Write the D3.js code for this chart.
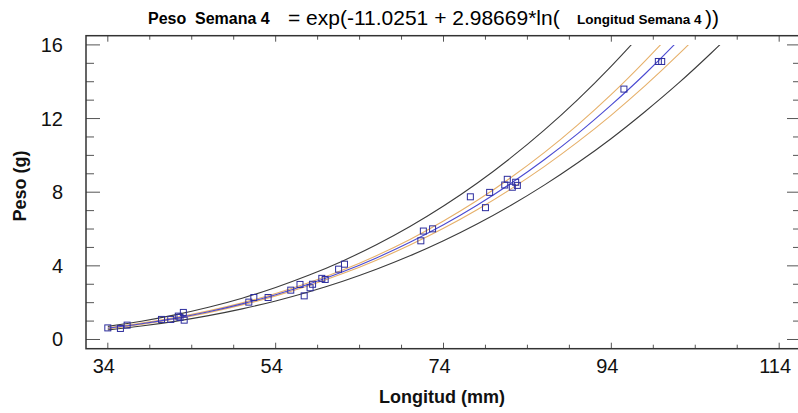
<!DOCTYPE html>
<html>
<head>
	<meta charset="utf-8">
	<script src="https://cdnjs.cloudflare.com/ajax/libs/d3/7.8.5/d3.min.js" charset="utf-8"></script>
	<style>
		body {
		  margin: 0;
		  background: #fff;
		  font-family: 'Liberation Sans', Arial, sans-serif;
		}
		.tickLabel { font-size: 20px; fill: #111; }
		.axisTitle { font-size: 18px; font-weight: bold; fill: #111; }
	</style>
</head>
<body>
<div id="chart"></div>
<script>

///////////////////////////////////////////////////
/////////////////// The data //////////////////////
///////////////////////////////////////////////////

//Observed fish (length in mm, weight in g)
var longitud = [34.0, 35.5, 36.3, 40.4, 41.5, 42.4, 43.0, 43.1, 42.6, 50.8, 51.4, 53.1,
	55.8, 56.9, 57.4, 58.1, 58.4, 59.5, 59.9, 61.5, 62.2, 71.3, 71.6, 72.7,
	77.2, 79.0, 79.5, 81.3, 81.6, 82.2, 82.6, 82.8, 95.5, 99.6, 100.0];
var peso = [0.63, 0.60, 0.78, 1.09, 1.09, 1.27, 1.47, 1.05, 1.20, 2.03, 2.28, 2.28,
	2.68, 2.99, 2.37, 2.81, 3.00, 3.32, 3.26, 3.82, 4.09, 5.36, 5.89, 6.01,
	7.75, 7.16, 7.99, 8.39, 8.70, 8.27, 8.54, 8.37, 13.6, 15.1, 15.1];

//Fitted model and limits, read along the x axis
var curveX = [34, 38, 42, 46, 50, 54, 58, 62, 66, 70, 74, 78, 82, 86, 90, 94, 98, 102, 106, 110];
var ajuste = [0.611, 0.852, 1.148, 1.507, 1.933, 2.432, 3.011, 3.674, 4.429, 5.280, 6.233,
	7.294, 8.470, 9.763, 11.18, 12.74, 14.42, 16.25, 18.23, 20.37];
var confSup = [0.640, 0.887, 1.189, 1.554, 1.988, 2.496, 3.090, 3.771, 4.553, 5.435, 6.433,
	7.546, 8.785, 10.15, 11.66, 13.31, 15.12, 17.07, 19.21, 21.50];
var confInf = [0.583, 0.817, 1.109, 1.461, 1.879, 2.370, 2.934, 3.580, 4.309, 5.129, 6.040,
	7.050, 8.167, 9.390, 10.73, 12.19, 13.77, 15.48, 17.31, 19.30];
var predSup = [0.713, 0.992, 1.337, 1.752, 2.245, 2.826, 3.498, 4.269, 5.146, 6.137, 7.249,
	8.487, 9.861, 11.37, 13.03, 14.85, 16.83, 18.98, 21.31, 23.85];
var predInf = [0.523, 0.731, 0.986, 1.296, 1.664, 2.093, 2.591, 3.162, 3.812, 4.542, 5.360,
	6.269, 7.276, 8.383, 9.597, 10.92, 12.37, 13.92, 15.60, 17.39];

//Tick values
var xTicks = [34, 54, 74, 94, 114];
var yTicks = [0, 4, 8, 12, 16];

///////////////////////////////////////////////////
//////////////// Set the Scales ///////////////////
///////////////////////////////////////////////////

var width = 798, height = 413;

var x = d3.scaleLinear().domain([31.4, 116.6]).range([86, 801]);
var y = d3.scaleLinear().domain([-0.5, 16.5]).range([348.7, 35.7]);

var svg = d3.select("#chart")
	.append("svg")
		.attr("width", width)
		.attr("height", height);

///////////////////////////////////////////////////
///////////////////// Title ///////////////////////
///////////////////////////////////////////////////

var title = svg.append("g").attr("class", "title");
title.append("text").attr("x", 148).attr("y", 24)
	.style("font-size", "16px").style("font-weight", "bold").text("Peso");
title.append("text").attr("x", 195).attr("y", 24)
	.style("font-size", "16px").style("font-weight", "bold").text("Semana 4");
title.append("text").attr("x", 288).attr("y", 25)
	.style("font-size", "21px").text("= exp(-11.0251 + 2.98669*ln(");
title.append("text").attr("x", 577).attr("y", 24)
	.style("font-size", "13.5px").style("font-weight", "bold").text("Longitud Semana 4");
title.append("text").attr("x", 705).attr("y", 25)
	.style("font-size", "21px").text("))");

///////////////////////////////////////////////////
////////////////// Frame & ticks //////////////////
///////////////////////////////////////////////////

var x0 = x.range()[0], x1 = x.range()[1],
	yTop = y.range()[1], yBot = y.range()[0];

//Minor ticks every 5 mm and every 1 g
var xMinor = d3.range(34, 115, 5);
var yMinor = d3.range(0, 17, 1);

var ticks = svg.append("g").attr("stroke", "#555").attr("stroke-width", 1);

xMinor.forEach(function(v) {
	var major = xTicks.indexOf(v) >= 0, len = major ? 6 : 4;
	ticks.append("line").attr("x1", x(v)).attr("x2", x(v)).attr("y1", yBot).attr("y2", yBot - len);
	ticks.append("line").attr("x1", x(v)).attr("x2", x(v)).attr("y1", yTop).attr("y2", yTop + len);
});
yMinor.forEach(function(v) {
	var major = yTicks.indexOf(v) >= 0, len = major ? 14 : 8;
	ticks.append("line").attr("x1", x0).attr("x2", x0 + len).attr("y1", y(v)).attr("y2", y(v));
	ticks.append("line").attr("x1", x1).attr("x2", x1 - len).attr("y1", y(v)).attr("y2", y(v));
});

svg.append("rect")
	.attr("x", x0).attr("y", yTop)
	.attr("width", x1 - x0).attr("height", yBot - yTop)
	.attr("fill", "none").attr("stroke", "#333").attr("stroke-width", 1.5);

//Tick labels
svg.selectAll(".xLabel")
	.data(xTicks)
	.enter().append("text")
	.attr("class", "tickLabel")
	.attr("x", function(d) { return x(d) - 4; })
	.attr("y", 373)
	.style("text-anchor", "middle")
	.text(function(d) { return d; });

svg.selectAll(".yLabel")
	.data(yTicks)
	.enter().append("text")
	.attr("class", "tickLabel")
	.attr("x", 63)
	.attr("y", function(d) { return y(d) + 7; })
	.style("text-anchor", "end")
	.text(function(d) { return d; });

//Axis titles
svg.append("text")
	.attr("class", "axisTitle")
	.attr("x", (x0 + 798) / 2)
	.attr("y", 403)
	.style("text-anchor", "middle")
	.text("Longitud (mm)");

svg.append("text")
	.attr("class", "axisTitle")
	.attr("transform", "translate(26," + 186 + ") rotate(-90)")
	.style("text-anchor", "middle")
	.text("Peso (g)");

///////////////////////////////////////////////////
//////////////////// Curves ///////////////////////
///////////////////////////////////////////////////

//Curves stop at the top value of the axis (16)
svg.append("defs").append("clipPath")
	.attr("id", "plotClip")
	.append("rect")
	.attr("x", x0).attr("y", y(16))
	.attr("width", x1 - x0).attr("height", yBot - y(16));

var line = d3.line()
	.x(function(d) { return x(d[0]); })
	.y(function(d) { return y(d[1]); })
	.curve(d3.curveMonotoneX);

var curves = [
	{values: predSup, color: "#3c3c3c"},
	{values: predInf, color: "#3c3c3c"},
	{values: confSup, color: "#e6b06a"},
	{values: confInf, color: "#e6b06a"},
	{values: ajuste, color: "#4b4bd2"}
];

svg.append("g")
	.attr("clip-path", "url(#plotClip)")
	.selectAll("path")
	.data(curves)
	.enter().append("path")
	.attr("d", function(c) { return line(curveX.map(function(v, i) { return [v, c.values[i]]; })); })
	.attr("fill", "none")
	.attr("stroke", function(c) { return c.color; })
	.attr("stroke-width", 1.1);

///////////////////////////////////////////////////
//////////////////// Points ///////////////////////
///////////////////////////////////////////////////

svg.append("g")
	.selectAll("rect")
	.data(longitud)
	.enter().append("rect")
	.attr("x", function(d) { return x(d) - 3; })
	.attr("y", function(d, i) { return y(peso[i]) - 3; })
	.attr("width", 6)
	.attr("height", 6)
	.attr("fill", "none")
	.attr("stroke", "#2d2d9e")
	.attr("stroke-width", 1);

</script>
</body>
</html>
